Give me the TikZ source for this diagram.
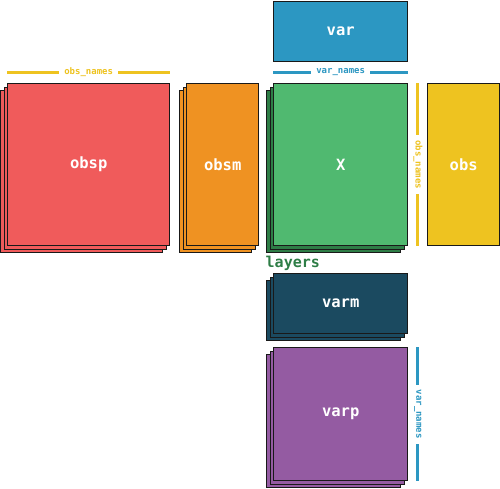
\documentclass[tikz,border=0pt]{standalone}
\usepackage{fontspec}
\setmonofont{DejaVu Sans Mono}
\usetikzlibrary{shadows}
\definecolor{colorobsp}   {RGB}{240, 91, 91}
\definecolor{colorobsm}   {RGB}{239,146, 34}
\definecolor{colorvar}    {RGB}{ 44,151,194}
\definecolor{colorx}      {RGB}{ 80,185,112}
\definecolor{colorlayers} {RGB}{ 46,125, 70}
\definecolor{colorobs}    {RGB}{238,195, 32}
\definecolor{colorvarm}   {RGB}{ 27, 74, 96}
\definecolor{colorvarp}   {RGB}{148, 91,162}
\definecolor{colorborder} {RGB}{ 25, 25, 25}

\begin{document}
\begin{tikzpicture}[
    x=1pt, y=-1pt, line width=1.4pt,
    slot/.style={draw=colorborder,anchor=north west,inner sep=0pt,text=white,
        font={\ttfamily\bfseries\fontsize{15.5}{18}\selectfont}},
    stack/.style={copy shadow={shadow xshift=-7pt,shadow yshift=-7pt,fill=#1},
        copy shadow={shadow xshift=-3.5pt,shadow yshift=-3.5pt,fill=#1}},
    nameline/.style={draw=#1,line width=3pt},
    names/.style={fill=white,inner xsep=5pt,inner ysep=2pt,font={\ttfamily\bfseries\fontsize{9}{10}\selectfont}},
]
    \useasboundingbox (0,0) rectangle (500,488);

    % Matrices along obs
    \node[slot,fill=colorobsp,stack=colorobsp,minimum width=162pt,minimum height=162pt] (obsp) at (7,83) {obsp};
    \node[slot,fill=colorobsm,stack=colorobsm,minimum width=72pt,minimum height=162pt] (obsm) at (186,83) {obsm};

    % Data matrix and annotations
    \node[slot,fill=colorvar,minimum width=134pt,minimum height=60pt] (var) at (273,1) {var};
    \node[slot,fill=colorx,stack=colorlayers,minimum width=134pt,minimum height=162pt] (X) at (273,83) {X};
    \node[slot,fill=colorobs,minimum width=72pt,minimum height=162pt] (obs) at (427,83) {obs};
    \node[anchor=base west,inner sep=0pt,text=colorlayers,
        font={\ttfamily\bfseries\fontsize{15}{18}\selectfont}] (layers) at (265,267) {layers};

    % Matrices along var
    \node[slot,fill=colorvarm,stack=colorvarm,minimum width=134pt,minimum height=60pt] (varm) at (273,273) {varm};
    \node[slot,fill=colorvarp,stack=colorvarp,minimum width=134pt,minimum height=133pt] (varp) at (273,347) {varp};

    % Index names
    \draw[nameline=colorobs] ([yshift=11pt]obsp.north west) -- node[names,text=colorobs] {obs\_names} ([yshift=11pt]obsp.north east);
    \draw[nameline=colorvar] ([yshift=11pt]X.north west) -- node[names,text=colorvar] {var\_names} ([yshift=11pt]X.north east);
    \draw[nameline=colorobs] ([xshift=9.5pt]X.north east) -- node[names,text=colorobs,rotate=-90] {obs\_names} ([xshift=9.5pt]X.south east);
    \draw[nameline=colorvar] ([xshift=9.5pt]varp.north east) -- node[names,text=colorvar,rotate=-90] {var\_names} ([xshift=9.5pt]varp.south east);

\end{tikzpicture}
\end{document}
